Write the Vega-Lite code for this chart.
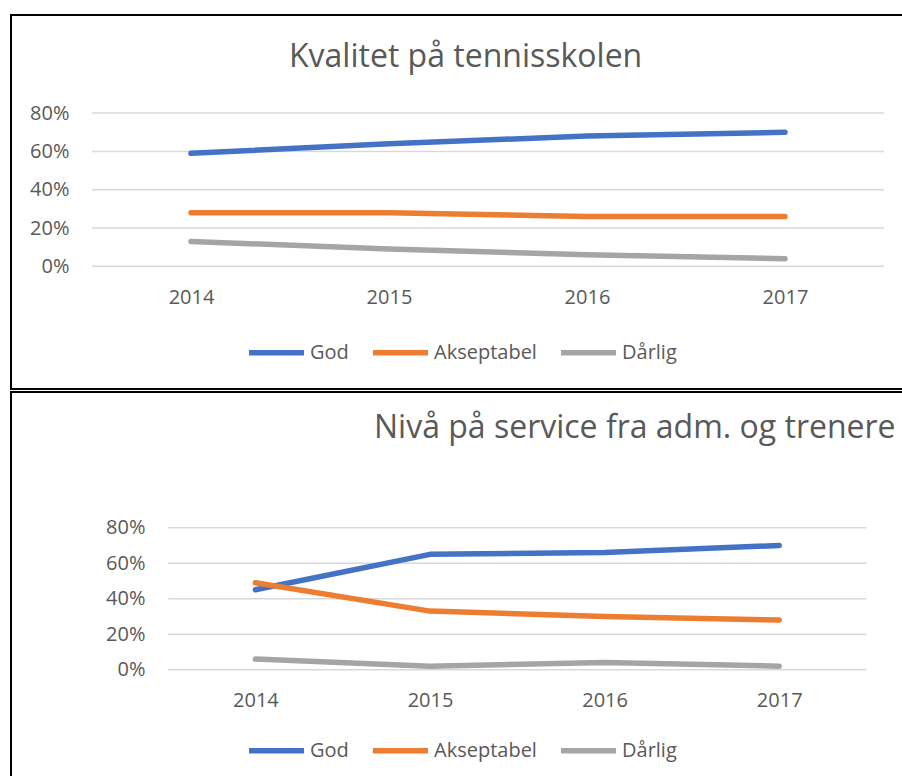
{
  "$schema": "https://vega.github.io/schema/vega-lite/v6.json",
  "padding": {"left": 10, "top": 14, "right": 0, "bottom": 0},
  "spacing": 1,
  "background": "white",
  "config": {
    "view": {"stroke": "black", "strokeWidth": 2},
    "font": "Open Sans",
    "axis": {"title": null, "grid": false, "domain": false, "ticks": false, "tickSize": 0, "labelPadding": 0, "labelFont": "Open Sans", "labelFontSize": 20, "labelColor": "#595959", "labelFlush": false, "labelOverlap": false},
    "legend": {"orient": "none", "direction": "horizontal", "title": null, "symbolType": "stroke", "symbolSize": 3025, "symbolStrokeWidth": 5.5, "labelFont": "Open Sans", "labelFontSize": 20, "labelColor": "#595959", "labelOffset": 3, "columnPadding": 13},
    "title": {"anchor": "start", "frame": "group", "baseline": "alphabetic", "font": "Open Sans", "fontWeight": "normal", "color": "#595959"}
  },
  "datasets": {
    "kvalitet": [
      {"year": 2014, "kategori": "God", "andel": 0.59},
      {"year": 2015, "kategori": "God", "andel": 0.64},
      {"year": 2016, "kategori": "God", "andel": 0.68},
      {"year": 2017, "kategori": "God", "andel": 0.70},
      {"year": 2014, "kategori": "Akseptabel", "andel": 0.28},
      {"year": 2015, "kategori": "Akseptabel", "andel": 0.28},
      {"year": 2016, "kategori": "Akseptabel", "andel": 0.26},
      {"year": 2017, "kategori": "Akseptabel", "andel": 0.26},
      {"year": 2014, "kategori": "Dårlig", "andel": 0.13},
      {"year": 2015, "kategori": "Dårlig", "andel": 0.09},
      {"year": 2016, "kategori": "Dårlig", "andel": 0.06},
      {"year": 2017, "kategori": "Dårlig", "andel": 0.04}
    ],
    "service": [
      {"year": 2014, "kategori": "God", "andel": 0.45},
      {"year": 2015, "kategori": "God", "andel": 0.65},
      {"year": 2016, "kategori": "God", "andel": 0.66},
      {"year": 2017, "kategori": "God", "andel": 0.70},
      {"year": 2014, "kategori": "Akseptabel", "andel": 0.49},
      {"year": 2015, "kategori": "Akseptabel", "andel": 0.33},
      {"year": 2016, "kategori": "Akseptabel", "andel": 0.30},
      {"year": 2017, "kategori": "Akseptabel", "andel": 0.28},
      {"year": 2014, "kategori": "Dårlig", "andel": 0.06},
      {"year": 2015, "kategori": "Dårlig", "andel": 0.02},
      {"year": 2016, "kategori": "Dårlig", "andel": 0.04},
      {"year": 2017, "kategori": "Dårlig", "andel": 0.02}
    ],
    "grid": [{"g": 0}, {"g": 0.2}, {"g": 0.4}, {"g": 0.6}, {"g": 0.8}]
  },
  "vconcat": [
    {
      "width": 900,
      "height": 374,
      "title": {"text": "Kvalitet på tennisskolen", "dx": 278, "offset": -59, "fontSize": 32},
      "layer": [
        {
          "data": {"name": "grid"},
          "mark": {"type": "rule", "color": "#d9d9d9", "strokeWidth": 1.5},
          "encoding": {
            "y": {"field": "g", "type": "quantitative", "scale": {"domain": [-0.6407, 1.3123], "nice": false, "zero": false}, "axis": {"values": [0, 0.2, 0.4, 0.6, 0.8], "format": ".0%", "offset": -58}},
            "x": {"datum": 2013.5, "type": "quantitative", "scale": {"domain": [2013.0909, 2017.6364], "nice": false, "zero": false}, "axis": {"values": [2014, 2015, 2016, 2017], "format": "d", "labelBaseline": "middle", "offset": -92}},
            "x2": {"datum": 2017.5}
          }
        },
        {
          "data": {"name": "kvalitet"},
          "mark": {"type": "line", "strokeWidth": 5.5, "strokeCap": "round", "strokeJoin": "round", "interpolate": "linear"},
          "encoding": {
            "x": {"field": "year", "type": "quantitative", "axis": {"values": [2014, 2015, 2016, 2017], "format": "d", "labelBaseline": "middle", "offset": -92}},
            "y": {"field": "andel", "type": "quantitative", "axis": {"values": [0, 0.2, 0.4, 0.6, 0.8], "format": ".0%", "offset": -58}},
            "color": {"field": "kategori", "type": "nominal", "sort": ["God", "Akseptabel", "Dårlig"], "scale": {"domain": ["God", "Akseptabel", "Dårlig"], "range": ["#4472c4", "#ed7d31", "#a5a5a5"]}, "legend": {"legendX": 235, "legendY": 307}}
          }
        }
      ]
    },
    {
      "width": 900,
      "height": 395,
      "title": {"text": "Nivå på service fra adm. og trenere", "dx": 363, "offset": -53, "fontSize": 32},
      "layer": [
        {
          "data": {"name": "grid"},
          "mark": {"type": "rule", "color": "#d9d9d9", "strokeWidth": 1.5},
          "encoding": {
            "y": {"field": "g", "type": "quantitative", "scale": {"domain": [-0.6609, 1.5645], "nice": false, "zero": false}, "axis": {"values": [0, 0.2, 0.4, 0.6, 0.8], "format": ".0%", "offset": -134}},
            "x": {"datum": 2013.5, "type": "quantitative", "scale": {"domain": [2012.6002, 2017.7549], "nice": false, "zero": false}, "axis": {"values": [2014, 2015, 2016, 2017], "format": "d", "labelBaseline": "middle", "offset": -87}},
            "x2": {"datum": 2017.5}
          }
        },
        {
          "data": {"name": "service"},
          "mark": {"type": "line", "strokeWidth": 5.5, "strokeCap": "round", "strokeJoin": "round", "interpolate": "linear"},
          "encoding": {
            "x": {"field": "year", "type": "quantitative", "axis": {"values": [2014, 2015, 2016, 2017], "format": "d", "labelBaseline": "middle", "offset": -87}},
            "y": {"field": "andel", "type": "quantitative", "axis": {"values": [0, 0.2, 0.4, 0.6, 0.8], "format": ".0%", "offset": -134}},
            "color": {"field": "kategori", "type": "nominal", "sort": ["God", "Akseptabel", "Dårlig"], "scale": {"domain": ["God", "Akseptabel", "Dårlig"], "range": ["#4472c4", "#ed7d31", "#a5a5a5"]}, "legend": {"legendX": 235, "legendY": 328}}
          }
        }
      ]
    }
  ],
  "resolve": {"scale": {"x": "independent", "y": "independent", "color": "independent"}, "legend": {"color": "independent"}}
}
